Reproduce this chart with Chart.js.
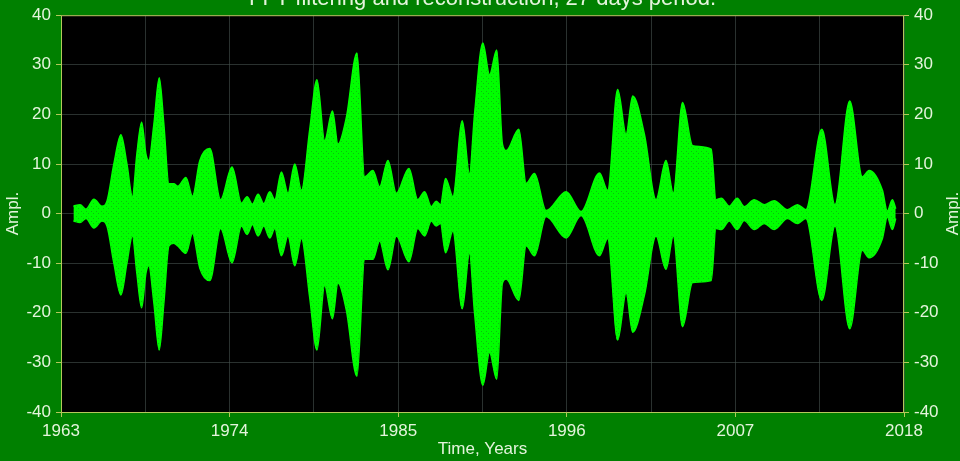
<!DOCTYPE html>
<html>
<head>
<meta charset="utf-8">
<script src="https://cdn.jsdelivr.net/npm/chart.js@4.4.0/dist/chart.umd.min.js"></script>
<style>
  html, body { margin: 0; padding: 0; background: #008000; overflow: hidden; }
  #wrap { position: relative; width: 960px; height: 461px; }
  canvas { display: block; }
</style>
</head>
<body>
<div id="wrap"><canvas id="chart" width="960" height="461"></canvas></div>
<script>
// Envelope of the reconstructed 27-day component (upper / lower extremes per time)
const years = [
  1963.81, 1964.24, 1964.63, 1965.15, 1965.67, 1966.00, 1966.45, 1966.91, 1967.30, 1967.66,
  1967.95, 1968.26, 1968.54, 1968.73, 1969.06, 1969.41, 1969.71, 1970.04, 1970.36, 1970.62,
  1971.15, 1971.58, 1972.06, 1972.71, 1973.41, 1974.16, 1974.78, 1975.14, 1975.49, 1975.86,
  1976.23, 1976.62, 1976.95, 1977.38, 1977.81, 1978.25, 1978.69, 1979.23, 1979.70, 1980.20,
  1980.71, 1981.07, 1981.62, 1982.31, 1982.81, 1983.35, 1983.79, 1984.33, 1984.88, 1985.70,
  1986.28, 1986.72, 1987.16, 1987.48, 1987.76, 1988.09, 1988.57, 1989.18, 1989.65, 1989.98,
  1990.52, 1990.96, 1991.43, 1991.80, 1992.05, 1992.87, 1993.35, 1993.89, 1994.65, 1995.96,
  1996.93, 1998.13, 1998.67, 1999.32, 1999.87, 2000.30, 2001.06, 2001.82, 2002.47, 2002.95,
  2003.55, 2004.21, 2005.42, 2005.73, 2006.08, 2006.60, 2007.12, 2007.57, 2008.23, 2008.88,
  2009.53, 2010.40, 2011.05, 2011.60, 2012.64, 2013.50, 2014.46, 2015.28, 2015.72, 2016.59,
  2016.91, 2017.24, 2017.46
];
const upper = [
  1.5, 1.8, 0.9, 2.9, 1.5, 2.5, 10.0, 15.9, 10.0, 3.4,
  12.0, 18.4, 12.0, 10.7, 18.0, 27.4, 18.0, 6.0, 6.0, 5.5,
  7.3, 3.5, 10.7, 13.1, 2.8, 9.4, 2.1, 3.4, 1.9, 3.9,
  2.0, 4.4, 2.8, 8.4, 4.1, 10.0, 4.7, 17.0, 27.0, 14.7,
  20.7, 14.0, 19.4, 32.4, 7.4, 8.7, 5.4, 10.7, 4.1, 9.1,
  2.8, 4.4, 1.4, 2.5, 1.8, 7.1, 3.4, 18.7, 8.0, 20.0,
  34.4, 28.0, 33.0, 14.0, 12.7, 17.0, 6.1, 8.1, 0.6, 4.4,
  0.4, 8.2, 4.7, 25.0, 16.0, 23.7, 16.0, 2.8, 10.7, 4.1,
  22.4, 13.7, 13.0, 2.8, 3.1, 1.5, 3.1, 1.4, 2.8, 1.8,
  2.6, 0.8, 1.8, 0.8, 17.0, 1.8, 22.7, 7.4, 8.7, 4.7,
  0.5, 2.8, 1.0
];
const lower = [
  -1.5, -1.8, -1.0, -2.9, -1.5, -2.5, -10.0, -16.4, -10.0, -4.5,
  -12.0, -19.0, -12.0, -10.5, -18.0, -27.5, -18.0, -6.5, -6.0, -6.5,
  -8.0, -4.0, -11.0, -13.5, -3.0, -9.9, -2.5, -4.2, -2.2, -4.5,
  -2.5, -4.9, -3.0, -8.5, -4.5, -10.5, -5.0, -17.0, -27.5, -14.5,
  -21.2, -14.0, -19.5, -32.8, -9.2, -9.2, -5.5, -11.3, -4.5, -9.7,
  -3.0, -4.5, -1.5, -2.5, -2.0, -7.9, -3.5, -19.2, -8.0, -20.0,
  -34.6, -28.0, -33.4, -14.0, -13.2, -17.5, -6.5, -8.5, -0.6, -4.9,
  -0.4, -8.5, -5.0, -25.5, -16.0, -23.9, -16.5, -4.5, -11.2, -4.5,
  -22.8, -13.9, -13.5, -3.0, -3.2, -1.5, -3.2, -1.4, -3.2, -2.0,
  -3.2, -1.0, -2.0, -1.0, -17.5, -2.5, -23.2, -7.4, -8.9, -5.0,
  -0.7, -3.2, -1.0
];

// Axis ticks
const xGridValues = [1963, 1968.5, 1974, 1979.5, 1985, 1990.5, 1996, 2001.5, 2007, 2012.5, 2018];
const xLabelValues = [1963, 1974, 1985, 1996, 2007, 2018];
const yTickValues = [-40, -30, -20, -10, 0, 10, 20, 30, 40];

const TITLE = 'FFT filtering and reconstruction, 27 days period.';
const X_TITLE = 'Time, Years';
const Y_TITLE = 'Ampl.';

const TEXT = '#e4f4dc';
const FRAME = '#b4c85a';
const GRID = 'rgba(70,82,78,0.6)';
const FONT = "'Liberation Sans', Arial, sans-serif";

// speckled bright-green fill
function signalPattern(ctx) {
  const t = document.createElement('canvas');
  t.width = 5; t.height = 5;
  const g = t.getContext('2d');
  g.fillStyle = '#00ff00';
  g.fillRect(0, 0, 5, 5);
  g.fillStyle = 'rgba(20,140,20,0.55)';
  g.fillRect(1, 1, 1, 1);
  g.fillRect(3, 3, 1, 1);
  return ctx.createPattern(t, 'repeat');
}

const toPts = arr => arr.map((v, i) => ({ x: years[i], y: v }));

const plotDecor = {
  id: 'plotDecor',
  beforeDraw(chart) {
    const { ctx, chartArea: a } = chart;
    ctx.save();
    ctx.fillStyle = '#000';
    ctx.fillRect(a.left, a.top, a.right - a.left, a.bottom - a.top);
    ctx.restore();
  },
  afterDraw(chart) {
    const { ctx, chartArea: a } = chart;
    ctx.save();
    ctx.strokeStyle = FRAME;
    ctx.lineWidth = 1;
    ctx.strokeRect(a.left + 0.5, a.top + 0.5, a.right - a.left - 1, a.bottom - a.top);
    // chart title (sits at the very top edge)
    ctx.fillStyle = TEXT;
    ctx.font = '22px ' + FONT;
    ctx.textAlign = 'center';
    ctx.textBaseline = 'alphabetic';
    ctx.fillText(TITLE, (a.left + a.right) / 2, 5);
    // vertical axis titles on both sides
    ctx.font = '17px ' + FONT;
    ctx.textBaseline = 'middle';
    const cy = (a.top + a.bottom) / 2;
    [13, 953].forEach(x => {
      ctx.save();
      ctx.translate(x, cy);
      ctx.rotate(-Math.PI / 2);
      ctx.fillText(Y_TITLE, 0, 0);
      ctx.restore();
    });
    ctx.restore();
  }
};

const canvas = document.getElementById('chart');
const ctx = canvas.getContext('2d');

new Chart(ctx, {
  type: 'line',
  data: {
    datasets: [
      {
        data: toPts(upper),
        borderColor: '#00ff00',
        borderWidth: 1.5,
        backgroundColor: signalPattern(ctx),
        fill: '+1',
        pointRadius: 0,
        cubicInterpolationMode: 'monotone'
      },
      {
        data: toPts(lower),
        borderColor: '#00ff00',
        borderWidth: 1.5,
        fill: false,
        pointRadius: 0,
        cubicInterpolationMode: 'monotone'
      }
    ]
  },
  options: {
    responsive: false,
    animation: false,
    events: [],
    layout: { padding: { top: 10, left: 0, right: 0, bottom: 0 } },
    plugins: { legend: { display: false }, tooltip: { enabled: false }, title: { display: false } },
    scales: {
      x: {
        type: 'linear',
        min: 1963, max: 2018,
        afterBuildTicks: s => { s.ticks = xGridValues.map(v => ({ value: v })); },
        afterFit: s => { s.height = 49; },
        ticks: {
          autoSkip: false,
          maxRotation: 0,
          color: TEXT,
          font: { family: FONT, size: 17 },
          padding: 4,
          callback: v => (xLabelValues.includes(v) ? String(v) : '')
        },
        grid: {
          color: GRID,
          tickLength: 5,
          tickColor: c => (xLabelValues.includes(c.tick.value) ? FRAME : 'rgba(0,0,0,0)')
        },
        border: { display: false },
        title: {
          display: true, text: X_TITLE, color: TEXT,
          font: { family: FONT, size: 17 }, padding: { top: 0, bottom: 1 }
        }
      },
      y: {
        position: 'left',
        min: -40, max: 40,
        afterBuildTicks: s => { s.ticks = yTickValues.map(v => ({ value: v })); },
        afterFit: s => { s.width = 61; },
        ticks: { color: TEXT, font: { family: FONT, size: 17 }, padding: 5 },
        grid: { color: GRID, tickLength: 5, tickColor: FRAME },
        border: { display: false }
      },
      yRight: {
        position: 'right',
        min: -40, max: 40,
        afterBuildTicks: s => { s.ticks = yTickValues.map(v => ({ value: v })); },
        afterFit: s => { s.width = 56; },
        ticks: { color: TEXT, font: { family: FONT, size: 17 }, padding: 5 },
        grid: { drawOnChartArea: false, tickLength: 5, tickColor: FRAME },
        border: { display: false }
      }
    }
  },
  plugins: [plotDecor]
});
</script>
</body>
</html>
